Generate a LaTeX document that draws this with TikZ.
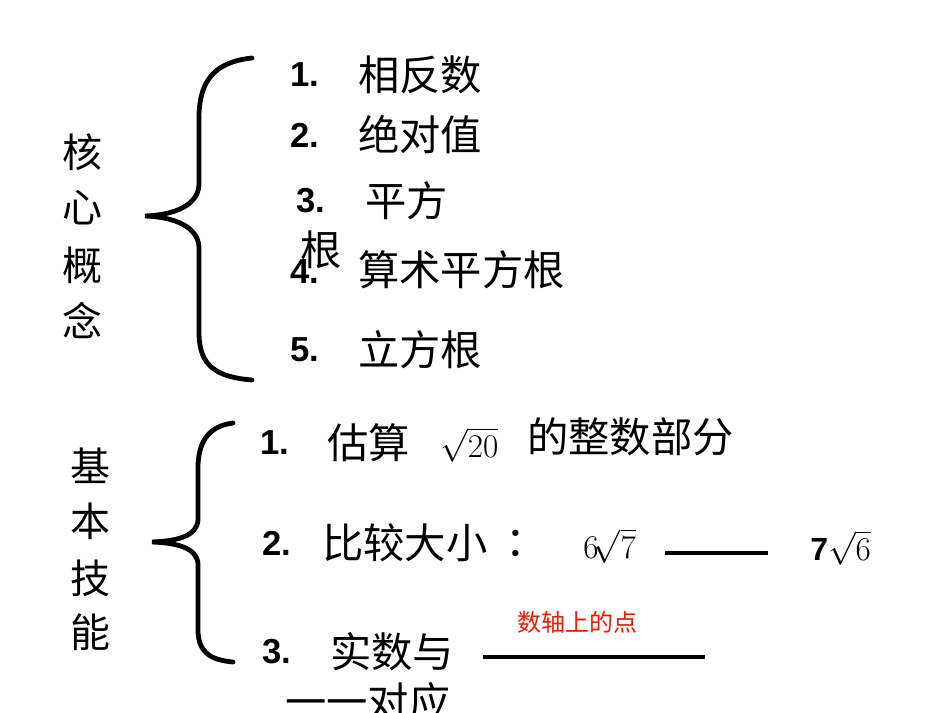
\documentclass[tikz,border=0pt]{standalone}
\usepackage{fontspec}
\setmainfont{Liberation Sans}
\newfontfamily\cjk{Noto Sans CJK SC}
\begin{document}
\begin{tikzpicture}[x=0.75pt,y=-0.75pt,
  t/.style={inner sep=0pt,anchor=west,font=\fontsize{31}{34}\selectfont\cjk},
  n/.style={inner sep=0pt,anchor=west,font=\fontsize{26}{30}\selectfont\bfseries},
  v/.style={inner sep=0pt,font=\fontsize{30}{34}\selectfont\cjk},
  br/.style={line width=3.6pt,line cap=round},
  ln/.style={line width=3pt}]
\useasboundingbox (0,0) rectangle (950,713);
% left column
\foreach \c/\y [count=\i] in {核/152,心/208,概/265,念/320}
  \node[v] (a\i) at (82,\y) {\c};
\foreach \c/\y [count=\i] in {基/466,本/521,技/578,能/632}
  \node[v] (b\i) at (90,\y) {\c};
% braces
\draw[br] (252,58) .. controls (215,62) and (200,80) .. (199,115) -- (199,185)
  .. controls (198,205) and (175,215) .. (145,216)
  .. controls (175,217) and (198,227) .. (199,247) -- (199,335)
  .. controls (200,365) and (215,377) .. (252,380);
\draw[br] (233,423) .. controls (210,426) and (199,440) .. (198,465) -- (198,520)
  .. controls (197,535) and (180,541) .. (152,542)
  .. controls (180,543) and (197,549) .. (198,564) -- (198,632)
  .. controls (199,652) and (210,660) .. (233,662);
% upper items
\node[n] (n1) at (290,75) {1.}; \node[t] (i1) at (358,75) {相反数};
\node[n] (n2) at (290,135) {2.}; \node[t] (i2) at (358,135) {绝对值};
\node[n] (n3) at (296,201) {3.}; \node[t] (i3) at (365,201) {平方};
\node[t] (i3b) at (300,250) {根};
\node[n] (n4) at (290,272) {4.}; \node[t] (i4) at (358,270) {算术平方根};
\node[n] (n5) at (290,350) {5.}; \node[t] (i5) at (358,350) {立方根};
% lower items
\node[n] (m1) at (260,443) {1.}; \node[t] (j1) at (327,443) {估算};
\node[inner sep=0pt,anchor=west,font=\fontsize{24}{28}\selectfont] (s1) at (440,445) {$\sqrt{20}$};
\node[t] (j1b) at (527,437) {的整数部分};
\node[n] (m2) at (262,543) {2.}; \node[t] (j2) at (322,543) {比较大小};
\node[t] (c2) at (505,543) {：};
\node[inner sep=0pt,anchor=west,font=\fontsize{24}{28}\selectfont] (s2) at (583,546) {$6\!\sqrt{7}$};
\node[inner sep=0pt,anchor=west,font=\fontsize{24}{28}\selectfont] (s3) at (810,548) {$\mathbf{7}\sqrt{6}$};
\coordinate (l1a) at (665,553); \coordinate (l1b) at (768,553);
\draw[ln] (l1a) -- (l1b);
\node[inner sep=0pt,anchor=west,text=red!85!orange,font=\fontsize{18}{20}\selectfont\cjk] (r) at (517,622) {数轴上的点};
\node[n] (m3) at (262,652) {3.}; \node[t] (j3) at (330,652) {实数与};
\coordinate (l2a) at (483,657); \coordinate (l2b) at (705,657);
\draw[ln] (l2a) -- (l2b);
\node[t] (j3b) at (285,702) {一一对应};
\end{tikzpicture}
\end{document}
